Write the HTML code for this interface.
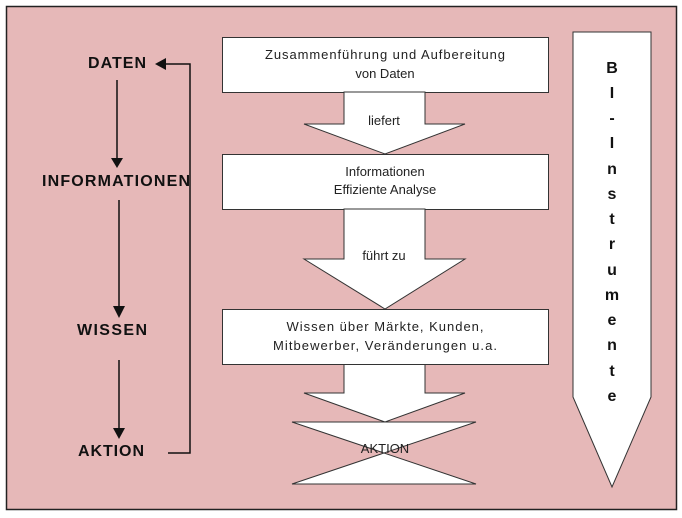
<!DOCTYPE html>
<html><head><meta charset="utf-8"><style>
html,body{margin:0;padding:0;background:#fff;}
svg{display:block;}
text{font-family:"Liberation Sans",Arial,sans-serif;}
</style></head><body>
<svg width="682" height="518" viewBox="0 0 682 518" xmlns="http://www.w3.org/2000/svg">
<rect x="6.5" y="6.5" width="670" height="503" fill="#e6b8b8" stroke="#222" stroke-width="1.5"/>
<g fill="#fff" stroke="#333" stroke-width="1">
<rect x="222.5" y="37.5" width="326" height="55"/>
<polygon points="344,92 425,92 425,124 465,124 385,154 304,124 344,124"/>
<rect x="222.5" y="154.5" width="326" height="55"/>
<polygon points="344,209 425,209 425,259 465,259 385,309 304,259 344,259"/>
<polygon points="344,364 425,364 425,393 465,393 385,422 304,393 344,393"/>
<rect x="222.5" y="309.5" width="326" height="55"/>
<polygon points="292,422 476,422 292,484 476,484"/>
<polygon points="573,32 651,32 651,397 612,487 573,397"/>
</g>
<g font-size="13" fill="#222" text-anchor="middle">
<text x="385" y="59" textLength="240" lengthAdjust="spacing">Zusammenführung und Aufbereitung</text>
<text x="385" y="78">von Daten</text>
<text x="384" y="125">liefert</text>
<text x="385" y="176">Informationen</text>
<text x="385" y="194">Effiziente Analyse</text>
<text x="384" y="260">führt zu</text>
<text x="385" y="331" textLength="197" lengthAdjust="spacing">Wissen über Märkte, Kunden,</text>
<text x="385" y="350" textLength="224" lengthAdjust="spacing">Mitbewerber, Veränderungen u.a.</text>
<text x="385" y="453">AKTION</text>
</g>
<g font-size="16" font-weight="bold" fill="#111" text-anchor="middle">
<text x="612" y="73">B</text>
<text x="612" y="98">I</text>
<text x="612" y="123">-</text>
<text x="612" y="148">I</text>
<text x="612" y="174">n</text>
<text x="612" y="199">s</text>
<text x="612" y="224">t</text>
<text x="612" y="249">r</text>
<text x="612" y="275">u</text>
<text x="612" y="300">m</text>
<text x="612" y="325">e</text>
<text x="612" y="350">n</text>
<text x="612" y="376">t</text>
<text x="612" y="401">e</text>
</g>
<g font-size="16" font-weight="bold" fill="#111">
<text x="88" y="68" textLength="58" lengthAdjust="spacing">DATEN</text>
<text x="42" y="186" textLength="148" lengthAdjust="spacing">INFORMATIONEN</text>
<text x="77" y="335" textLength="70" lengthAdjust="spacing">WISSEN</text>
<text x="78" y="456" textLength="66" lengthAdjust="spacing">AKTION</text>
</g>
<g stroke="#111" stroke-width="1.5" fill="none">
<line x1="117" y1="80" x2="117" y2="160"/>
<line x1="119" y1="200" x2="119" y2="308"/>
<line x1="119" y1="360" x2="119" y2="430"/>
<polyline points="168,453 190,453 190,64 164,64"/>
</g>
<g fill="#111">
<polygon points="111,158 123,158 117,168"/>
<polygon points="113,306 125,306 119,318"/>
<polygon points="113,428 125,428 119,439"/>
<polygon points="155,64 166,58 166,70"/>
</g>
</svg>
</body></html>
